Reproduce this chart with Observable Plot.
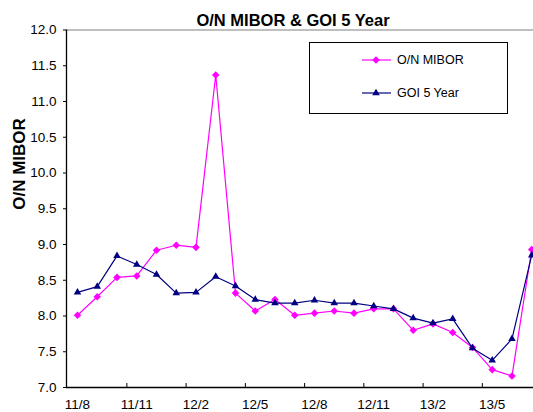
<!DOCTYPE html>
<html>
<head>
<meta charset="utf-8">
<script src="https://cdn.jsdelivr.net/npm/d3@7"></script>
<script src="https://cdn.jsdelivr.net/npm/@observablehq/plot@0.6"></script>
<style>
  html, body { margin: 0; padding: 0; background: #fff; overflow: hidden; }
  #chart { position: relative; width: 533px; height: 412px; }
  #chart svg { display: block; }
  #legend { position: absolute; left: 0; top: 0; }
</style>
</head>
<body>
<div id="chart"></div>
<script>
const title = "O/N MIBOR & GOI 5 Year";
const yLabel = "O/N MIBOR";
const series = ["O/N MIBOR", "GOI 5 Year"];
const months = ["11/8","11/9","11/10","11/11","11/12","12/1","12/2","12/3","12/4","12/5","12/6","12/7",
                "12/8","12/9","12/10","12/11","12/12","13/1","13/2","13/3","13/4","13/5","13/6","13/7"];
const mibor = [8.01, 8.27, 8.54, 8.56, 8.92, 8.99, 8.96, 11.37, 8.32, 8.07, 8.23, 8.01,
               8.04, 8.07, 8.04, 8.10, 8.10, 7.80, 7.89, 7.77, 7.56, 7.25, 7.16, 8.93];
const goi   = [8.33, 8.41, 8.84, 8.72, 8.58, 8.32, 8.33, 8.55, 8.42, 8.23, 8.18, 8.18,
               8.22, 8.18, 8.18, 8.14, 8.10, 7.97, 7.90, 7.96, 7.55, 7.38, 7.68, 8.85];
const yTicks = [7.0, 7.5, 8.0, 8.5, 9.0, 9.5, 10.0, 10.5, 11.0, 11.5, 12.0];
const labelIdx = [0, 3, 6, 9, 12, 15, 18, 21];
const tickIdx = [2.5, 5.5, 8.5, 11.5, 14.5, 17.5, 20.5];
const colors = ["#FF00FF", "#000080"];

const xDomain = [-0.557, 23.09];
const yDomain = [7, 12];
const font = "'Liberation Sans', Arial, sans-serif";

const rows = [];
months.forEach((m, i) => {
  rows.push({i, month: m, series: series[0], value: mibor[i]});
});
months.forEach((m, i) => {
  rows.push({i, month: m, series: series[1], value: goi[i]});
});
const miborRows = rows.filter(d => d.series === series[0]);
const goiRows = rows.filter(d => d.series === series[1]);

const chart = Plot.plot({
  width: 533,
  height: 412,
  marginTop: 29.5,
  marginBottom: 25,
  marginLeft: 66,
  marginRight: 0,
  style: {fontFamily: font, background: "#fff", color: "#000"},
  x: {type: "linear", domain: xDomain},
  y: {domain: yDomain},
  marks: [
    Plot.ruleY([yDomain[1]], {stroke: "#808080", strokeWidth: 1.2}),
    Plot.ruleX([xDomain[0]], {stroke: "#000", strokeWidth: 1.3}),
    Plot.ruleY([yDomain[0]], {stroke: "#000", strokeWidth: 1.3}),
    Plot.axisY(yTicks, {tickSize: 3, tickPadding: 7, tickFormat: d => d.toFixed(1), fontSize: 13.5, label: null, stroke: "#000"}),
    Plot.axisX(tickIdx, {tickSize: 4, dy: -4, tickFormat: () => "", label: null}),
    Plot.axisX(labelIdx, {tickSize: 0, tickPadding: 12, tickFormat: i => months[i], fontSize: 13.5, label: null}),
    Plot.lineY(miborRows, {x: "i", y: "value", stroke: colors[0], strokeWidth: 1.2}),
    Plot.dot(miborRows, {x: "i", y: "value", symbol: "diamond2", r: 3.4, fill: colors[0]}),
    Plot.lineY(goiRows, {x: "i", y: "value", stroke: colors[1], strokeWidth: 1.2}),
    Plot.dot(goiRows, {x: "i", y: "value", symbol: "triangle2", r: 3.6, fill: colors[1]}),
    Plot.text([title], {text: d => d, frameAnchor: "top", dy: -9, dx: -7, fontSize: 16.5, fontWeight: "bold", lineAnchor: "middle", fill: "#000"}),
    Plot.text([yLabel], {text: d => d, frameAnchor: "left", rotate: -90, dx: -47, dy: 1, fontSize: 17, fontWeight: "bold", fill: "#000"})
  ]
});
document.getElementById("chart").appendChild(chart);

// Legend overlay
const leg = d3.select("#chart").append("svg")
  .attr("id", "legend")
  .attr("width", 533).attr("height", 412)
  .style("font-family", font);
leg.append("rect").attr("x", 309.5).attr("y", 42.5).attr("width", 198).attr("height", 71)
  .attr("fill", "#fff").attr("stroke", "#000").attr("stroke-width", 1);
const symbols = [d3.symbolDiamond2, d3.symbolTriangle2];
const sizes = [Math.PI * 3.4 * 3.4, Math.PI * 3.6 * 3.6];
series.forEach((s, k) => {
  const cy = k === 0 ? 60 : 93;
  leg.append("line").attr("x1", 362).attr("x2", 391).attr("y1", cy).attr("y2", cy)
    .attr("stroke", colors[k]).attr("stroke-width", 1.2);
  leg.append("path").attr("d", d3.symbol(symbols[k], sizes[k])())
    .attr("transform", `translate(376,${cy})`).attr("fill", colors[k]);
  leg.append("text").attr("x", 397).attr("y", cy).attr("dy", "0.35em")
    .attr("font-size", 12.5).attr("fill", "#000").text(s);
});
</script>
</body>
</html>
